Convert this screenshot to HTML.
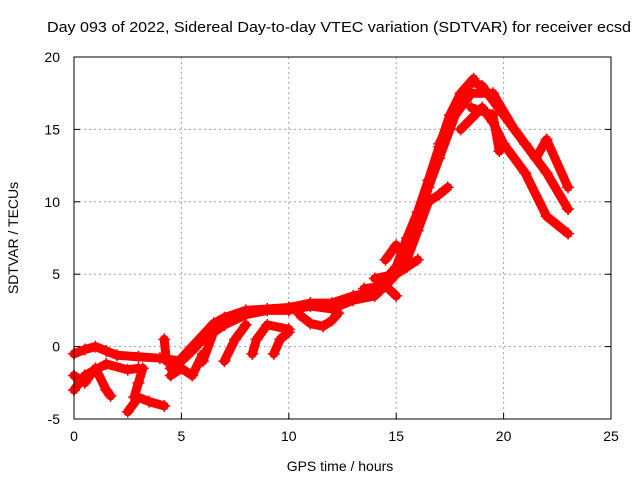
<!DOCTYPE html>
<html><head><meta charset="utf-8"><style>
body{margin:0;background:#fff}
svg text{font-family:"Liberation Sans",sans-serif;font-size:14px;fill:#000}
</style></head><body>
<svg id="chart" width="640" height="480">
<text x="339" y="32" text-anchor="middle" textLength="584" lengthAdjust="spacingAndGlyphs" style="font-size:15px">Day 093 of 2022, Sidereal Day-to-day VTEC variation (SDTVAR) for receiver ecsd</text>
<text x="340" y="471" text-anchor="middle">GPS time / hours</text>
<text transform="translate(18,238) rotate(-90)" text-anchor="middle">SDTVAR / TECUs</text>
<g id="grid"></g><g id="marks"></g><g id="axes"></g>
</svg>
<script>
const xTicks=[0,5,10,15,20,25];
const yTicks=[-5,0,5,10,15,20];
const trackMain=[[0,-0.5],[0.5,-0.2],[1,0],[1.5,-0.3],[2,-0.6],[3,-0.7],[4,-0.8],[5,-1],[5.5,-0.3],[6,0.5],[7,1.5],[8,2.2],[9,2.5],[10,2.5],[11,2.8],[12,2.6],[13,3.2],[14,3.5],[14.5,4.2],[15,5],[15.5,7],[16,8.5],[16.5,11],[17,13],[17.5,15],[18,17],[18.5,18.3],[19,18],[20,16],[21,14],[22,12],[23,9.5]];
const trackMain2=[[4.5,-1.5],[5,-0.8],[6,0.8],[6.5,1.6],[7,2],[8,2.5],[9,2.6],[10,2.7],[11,3],[12,3],[13,3.5],[14,3.8],[15,5.5],[15.5,7.5],[16,9.3],[16.5,11.5],[17,13.8],[17.5,16],[18,17.5],[18.6,18.5]];
const trackB=[[17,14],[17.5,15.5],[18,16.5],[18.5,17.5],[19.5,17.5],[20.5,15],[21.5,13],[22,14.3],[23,11]];
const trackC=[[18,15],[19,16.5],[19.5,15.5],[20,14],[21,12],[22,9],[23,7.8]];
const trackD=[[18.5,16.5],[19.5,16],[19.8,13.5]];
const trackE=[[14.5,6],[15,7],[15.5,6],[16,8],[16.5,10],[17,10.5],[17.4,11]];
const trackF=[[14,4.7],[15,5],[15.5,5.5],[16,6]];
const trackG=[[13.5,4],[14.5,4.2],[15,3.5]];
const trackH=[[0,-2],[0.5,-2.5],[1,-1.5],[1.5,-3],[1.7,-3.4]];
const trackI=[[0,-3],[0.5,-2],[1.5,-1.2],[2.5,-1.6],[3,-1.5]];
const trackJ=[[2.5,-4.5],[3,-3.5],[3.5,-3.8],[4.2,-4.1]];
const trackK=[[2.8,-3.5],[3,-2.5],[3.2,-1.5]];
const trackL=[[6,-1],[6.5,1],[7,1.5]];
const trackM=[[7,-1],[7.5,0.5],[8,1.5]];
const trackN=[[8.3,-0.5],[8.5,0.5],[9,1.5],[10,1.2]];
const trackO=[[9.3,-0.5],[9.6,0.5],[10,1]];
const trackP=[[10.5,2.2],[11,1.6],[11.6,1.4],[12,1.8],[12.3,2.3]];
const trackQ=[[4.5,-2],[5,-1.5],[5.5,-2],[6,-0.5]];
const trackR=[[4.2,0.5],[4.3,-1]];
const allTracks=[trackMain,trackMain2,trackB,trackC,trackD,trackE,trackF,trackG,trackH,trackI,trackJ,trackK,trackL,trackM,trackN,trackO,trackP,trackQ,trackR];
const X0=74,X1=611,Y0=419,Y1=57;
const xs=v=>X0+(v-0)/25*(X1-X0);
const ys=v=>Y0-(v+5)/25*(Y0-Y1);
const NS='http://www.w3.org/2000/svg';
const grid=document.getElementById('grid'),marks=document.getElementById('marks'),axes=document.getElementById('axes');
function mk(tag,attrs,parent){const e=document.createElementNS(NS,tag);for(const k in attrs)e.setAttribute(k,attrs[k]);parent.appendChild(e);return e;}
xTicks.forEach(t=>{
  if(t>0&&t<25){const l=mk('line',{x1:xs(t),x2:xs(t),y1:Y1,y2:Y0,stroke:'#a0a0a0','stroke-dasharray':'2,3'},grid);
  
  }
  const tk=mk('line',{x1:xs(t),x2:xs(t),y1:Y0,y2:Y0-6,stroke:'#000'},axes);
  
  
  const tx=mk('text',{x:xs(t),y:Y0+22,'text-anchor':'middle'},axes);tx.textContent=t;
  
  
});
yTicks.forEach(t=>{
  if(t>-5&&t<20){const l=mk('line',{x1:X0,x2:X1,y1:ys(t),y2:ys(t),stroke:'#a0a0a0','stroke-dasharray':'2,3'},grid);
  
  }
  const tk=mk('line',{x1:X0,x2:X0+6,y1:ys(t),y2:ys(t),stroke:'#000'},axes);
  
  
  const tk2=mk('line',{x1:X1,x2:X1-6,y1:ys(t),y2:ys(t),stroke:'#000'},axes);
  
  
  const tx=mk('text',{x:X0-14,y:ys(t)+5,'text-anchor':'end'},axes);tx.textContent=t;
  
  
});
const frame=mk('rect',{x:X0,y:Y1,width:X1-X0,height:Y0-Y1,fill:'none',stroke:'#000'},axes);


allTracks.forEach(tr=>{
  const pl=mk('polyline',{points:tr.map(p=>xs(p[0])+','+ys(p[1])).join(' '),fill:'none',stroke:'#f00','stroke-width':9,'stroke-linejoin':'round','stroke-linecap':'round'},marks);
  
  
  tr.forEach(p=>{
    const x=xs(p[0]),y=ys(p[1]);
    const m=mk('path',{d:`M${x-6},${y}H${x+6}M${x},${y-6}V${y+6}`,stroke:'#f00','stroke-width':1.5},marks);
    
    
  });
});
</script>
</body></html>
